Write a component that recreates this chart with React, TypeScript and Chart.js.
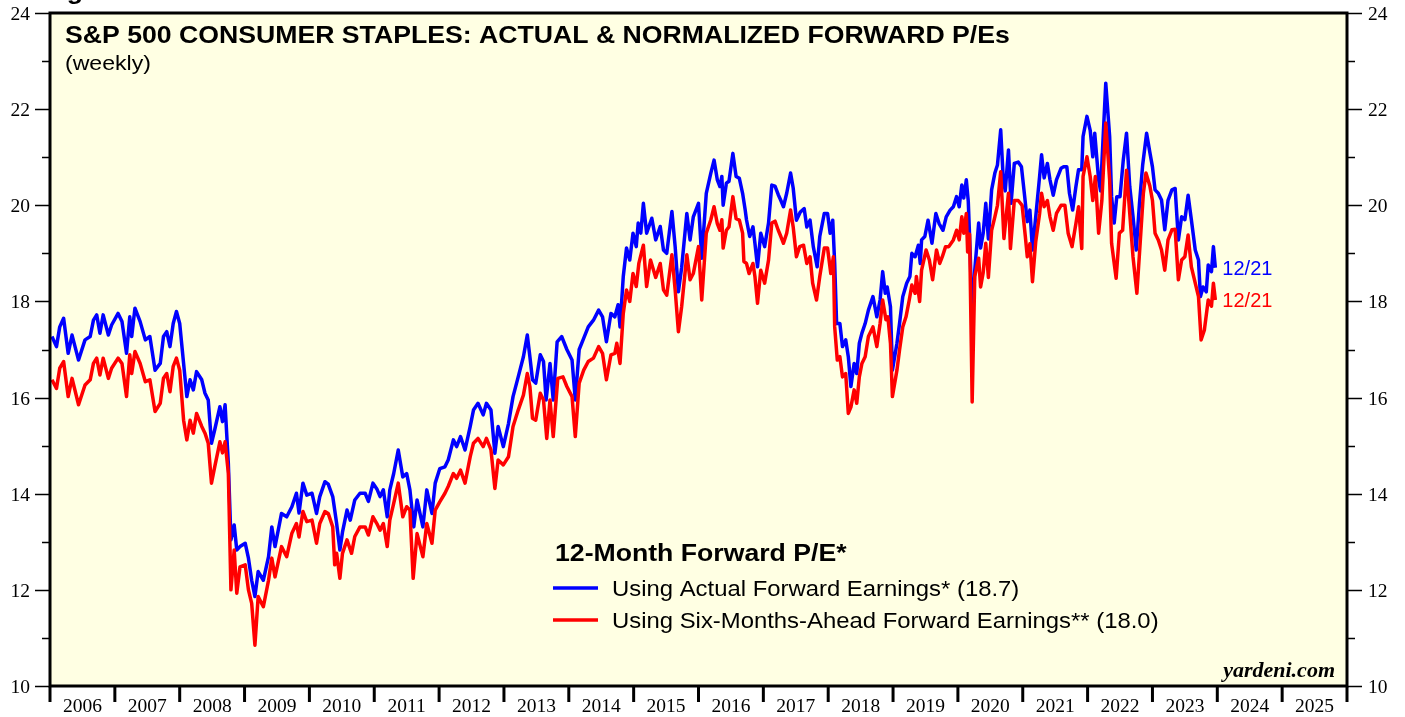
import React, { useEffect, useRef } from "react";
import { Chart, registerables } from "chart.js";

Chart.register(...registerables);

const yearLabels = ["2006","2007","2008","2009","2010","2011","2012","2013","2014","2015","2016","2017","2018","2019","2020","2021","2022","2023","2024","2025"];
const yTicks = [10,11,12,13,14,15,16,17,18,19,20,21,22,23,24];

const actualDates = [2006.03,2006.10,2006.15,2006.21,2006.28,2006.34,2006.44,2006.54,2006.62,2006.67,2006.72,2006.77,2006.82,2006.90,2006.95,2007.05,2007.11,2007.18,2007.23,2007.26,2007.31,2007.39,2007.47,2007.54,2007.62,2007.70,2007.75,2007.80,2007.85,2007.90,2007.95,2008.00,2008.06,2008.11,2008.16,2008.21,2008.26,2008.34,2008.39,2008.44,2008.49,2008.54,2008.62,2008.66,2008.70,2008.75,2008.79,2008.84,2008.88,2008.93,2009.01,2009.06,2009.11,2009.16,2009.21,2009.29,2009.37,2009.42,2009.47,2009.57,2009.65,2009.73,2009.80,2009.84,2009.90,2009.96,2010.04,2010.11,2010.16,2010.24,2010.29,2010.36,2010.42,2010.47,2010.51,2010.58,2010.63,2010.70,2010.78,2010.86,2010.91,2010.98,2011.04,2011.09,2011.14,2011.20,2011.24,2011.30,2011.37,2011.44,2011.50,2011.55,2011.61,2011.66,2011.75,2011.81,2011.89,2011.94,2012.01,2012.09,2012.14,2012.22,2012.27,2012.33,2012.40,2012.48,2012.53,2012.60,2012.68,2012.73,2012.80,2012.86,2012.91,2012.99,2013.07,2013.14,2013.22,2013.30,2013.36,2013.40,2013.44,2013.49,2013.56,2013.61,2013.65,2013.71,2013.76,2013.82,2013.89,2013.97,2014.05,2014.10,2014.16,2014.22,2014.30,2014.38,2014.46,2014.52,2014.58,2014.65,2014.71,2014.76,2014.79,2014.84,2014.89,2014.94,2014.99,2015.04,2015.07,2015.11,2015.15,2015.20,2015.28,2015.34,2015.41,2015.46,2015.51,2015.59,2015.64,2015.69,2015.74,2015.82,2015.87,2015.92,2016.00,2016.05,2016.12,2016.19,2016.24,2016.29,2016.33,2016.36,2016.38,2016.43,2016.47,2016.53,2016.58,2016.63,2016.68,2016.72,2016.74,2016.79,2016.84,2016.87,2016.91,2016.96,2017.02,2017.08,2017.13,2017.18,2017.23,2017.27,2017.31,2017.36,2017.42,2017.46,2017.51,2017.57,2017.63,2017.67,2017.72,2017.77,2017.83,2017.87,2017.94,2017.99,2018.03,2018.07,2018.10,2018.13,2018.18,2018.22,2018.27,2018.31,2018.35,2018.40,2018.44,2018.48,2018.52,2018.57,2018.62,2018.69,2018.75,2018.80,2018.84,2018.88,2018.91,2018.96,2018.99,2019.06,2019.10,2019.15,2019.21,2019.26,2019.29,2019.34,2019.39,2019.42,2019.44,2019.49,2019.54,2019.60,2019.66,2019.71,2019.77,2019.82,2019.88,2019.93,2019.98,2020.02,2020.06,2020.09,2020.13,2020.16,2020.19,2020.22,2020.26,2020.32,2020.35,2020.39,2020.43,2020.47,2020.52,2020.57,2020.61,2020.66,2020.70,2020.73,2020.78,2020.82,2020.87,2020.93,2020.98,2021.03,2021.07,2021.11,2021.15,2021.20,2021.26,2021.29,2021.33,2021.38,2021.42,2021.47,2021.52,2021.59,2021.63,2021.68,2021.72,2021.77,2021.82,2021.86,2021.91,2021.93,2021.99,2022.04,2022.08,2022.11,2022.17,2022.20,2022.24,2022.28,2022.34,2022.37,2022.41,2022.45,2022.50,2022.55,2022.60,2022.65,2022.70,2022.75,2022.80,2022.85,2022.91,2022.96,2023.00,2023.04,2023.09,2023.14,2023.19,2023.24,2023.30,2023.35,2023.40,2023.45,2023.50,2023.55,2023.60,2023.66,2023.71,2023.74,2023.78,2023.83,2023.86,2023.91,2023.94,2023.97];
const actualPE = [17.27,17.06,17.47,17.65,16.92,17.30,16.78,17.20,17.27,17.61,17.72,17.34,17.72,17.30,17.51,17.75,17.58,16.92,17.68,17.27,17.86,17.58,17.20,17.27,16.57,16.71,17.27,17.37,17.06,17.54,17.79,17.54,16.71,16.02,16.37,16.16,16.54,16.37,16.09,15.95,15.05,15.33,15.81,15.50,15.85,14.63,13.04,13.35,12.83,12.90,12.97,12.66,12.20,11.86,12.38,12.20,12.69,13.31,12.90,13.59,13.52,13.73,14.01,13.60,14.22,13.97,14.01,13.59,13.94,14.25,14.20,13.94,13.38,12.83,13.20,13.66,13.45,13.87,14.01,14.01,13.84,14.22,14.10,13.94,14.08,13.52,14.08,14.42,14.91,14.35,14.42,14.08,13.31,13.87,13.31,14.08,13.59,14.22,14.52,14.56,14.70,15.12,14.98,15.19,14.91,15.40,15.74,15.88,15.64,15.88,15.74,14.84,15.40,14.98,15.46,16.02,16.43,16.85,17.30,16.85,16.37,16.30,16.89,16.75,15.95,16.71,15.95,17.16,17.27,17.00,16.78,15.95,17.00,17.20,17.47,17.61,17.82,17.68,17.16,17.75,17.68,17.93,17.47,18.52,19.11,18.86,19.42,19.14,19.63,19.42,20.04,19.42,19.73,19.28,19.56,19.07,19.00,19.87,19.14,18.20,18.70,19.83,19.28,19.76,20.04,18.90,20.25,20.67,20.94,20.53,20.39,20.60,20.00,20.46,20.50,21.08,20.60,20.56,20.25,19.90,19.70,19.35,19.55,19.21,18.72,19.42,19.14,19.63,20.42,20.40,20.22,20.10,19.97,20.25,20.67,20.36,19.69,19.86,19.93,19.55,19.69,19.14,18.72,19.35,19.83,19.83,19.42,19.69,18.79,17.54,17.54,17.06,17.20,16.85,16.23,16.71,16.50,17.13,17.34,17.54,17.82,18.10,17.68,18.03,18.62,18.17,18.30,17.89,16.57,17.13,17.54,18.10,18.38,18.52,19.00,18.93,19.17,18.79,19.28,19.35,19.69,19.21,19.83,19.62,19.48,19.76,19.90,19.97,20.18,19.97,20.42,20.15,20.53,20.08,19.00,17.50,18.65,19.63,19.11,19.42,20.04,19.30,20.32,20.67,20.84,21.57,20.53,20.30,21.15,20.04,20.87,20.90,20.80,20.18,19.66,19.90,19.07,19.76,20.60,21.05,20.57,20.87,20.53,20.21,20.53,20.77,20.80,20.80,20.25,19.90,20.39,20.74,20.74,21.43,21.85,21.56,21.01,21.50,20.53,20.30,21.43,22.54,21.43,20.18,19.63,20.18,20.18,20.94,21.50,20.39,19.77,19.07,20.04,20.85,21.50,21.10,20.80,20.32,20.25,20.11,19.49,20.10,20.32,20.35,19.28,19.76,19.70,20.21,19.70,19.07,18.86,18.10,18.30,18.20,18.76,18.62,19.14,18.70];

const normDates = [2006.03,2006.10,2006.15,2006.21,2006.28,2006.34,2006.44,2006.54,2006.62,2006.67,2006.72,2006.77,2006.82,2006.90,2006.95,2007.05,2007.11,2007.18,2007.23,2007.26,2007.31,2007.39,2007.47,2007.54,2007.62,2007.70,2007.75,2007.80,2007.85,2007.90,2007.95,2008.00,2008.06,2008.11,2008.16,2008.21,2008.26,2008.34,2008.39,2008.44,2008.49,2008.54,2008.62,2008.66,2008.70,2008.75,2008.79,2008.84,2008.88,2008.93,2009.01,2009.06,2009.11,2009.16,2009.21,2009.29,2009.37,2009.42,2009.47,2009.57,2009.65,2009.73,2009.80,2009.84,2009.90,2009.96,2010.04,2010.11,2010.16,2010.24,2010.29,2010.36,2010.39,2010.42,2010.47,2010.51,2010.58,2010.65,2010.70,2010.78,2010.86,2010.91,2010.98,2011.04,2011.09,2011.14,2011.20,2011.24,2011.30,2011.37,2011.44,2011.50,2011.55,2011.60,2011.66,2011.75,2011.81,2011.89,2011.94,2012.01,2012.09,2012.14,2012.22,2012.27,2012.33,2012.40,2012.48,2012.53,2012.60,2012.68,2012.73,2012.80,2012.86,2012.91,2012.99,2013.07,2013.14,2013.22,2013.30,2013.36,2013.40,2013.44,2013.49,2013.56,2013.61,2013.66,2013.71,2013.76,2013.83,2013.91,2013.97,2014.05,2014.10,2014.16,2014.23,2014.30,2014.38,2014.46,2014.52,2014.58,2014.65,2014.71,2014.74,2014.79,2014.84,2014.89,2014.94,2014.99,2015.04,2015.08,2015.15,2015.20,2015.26,2015.34,2015.41,2015.46,2015.51,2015.59,2015.64,2015.69,2015.74,2015.82,2015.87,2015.92,2016.00,2016.05,2016.12,2016.19,2016.24,2016.29,2016.33,2016.36,2016.38,2016.43,2016.47,2016.53,2016.58,2016.63,2016.68,2016.70,2016.74,2016.78,2016.84,2016.87,2016.91,2016.96,2017.02,2017.08,2017.13,2017.18,2017.23,2017.27,2017.31,2017.36,2017.42,2017.46,2017.51,2017.56,2017.62,2017.67,2017.72,2017.76,2017.82,2017.87,2017.94,2017.99,2018.04,2018.08,2018.10,2018.14,2018.18,2018.22,2018.27,2018.31,2018.35,2018.40,2018.44,2018.48,2018.52,2018.57,2018.62,2018.69,2018.75,2018.80,2018.84,2018.89,2018.92,2018.96,2018.99,2019.06,2019.10,2019.15,2019.20,2019.25,2019.29,2019.34,2019.36,2019.41,2019.44,2019.51,2019.56,2019.61,2019.67,2019.72,2019.76,2019.81,2019.86,2019.93,2019.98,2020.02,2020.06,2020.09,2020.13,2020.15,2020.18,2020.22,2020.26,2020.32,2020.35,2020.39,2020.43,2020.47,2020.52,2020.57,2020.61,2020.66,2020.71,2020.78,2020.81,2020.87,2020.93,2020.99,2021.04,2021.07,2021.11,2021.15,2021.20,2021.26,2021.29,2021.33,2021.38,2021.42,2021.47,2021.52,2021.59,2021.65,2021.70,2021.76,2021.82,2021.86,2021.91,2021.93,2021.99,2022.04,2022.08,2022.12,2022.17,2022.22,2022.28,2022.34,2022.37,2022.44,2022.49,2022.54,2022.60,2022.65,2022.70,2022.76,2022.81,2022.86,2022.90,2022.96,2023.00,2023.04,2023.09,2023.14,2023.19,2023.24,2023.30,2023.35,2023.40,2023.45,2023.50,2023.55,2023.60,2023.66,2023.71,2023.75,2023.80,2023.86,2023.91,2023.94,2023.97];
const normPE = [16.37,16.19,16.61,16.75,16.02,16.40,15.85,16.26,16.37,16.71,16.82,16.47,16.82,16.40,16.61,16.82,16.71,16.02,16.89,16.50,16.96,16.71,16.33,16.37,15.71,15.88,16.40,16.50,16.12,16.65,16.82,16.57,15.53,15.12,15.53,15.26,15.67,15.40,15.26,15.05,14.22,14.56,15.08,14.85,15.08,14.43,12.00,12.83,11.93,12.48,12.52,12.00,11.72,10.85,11.86,11.65,12.20,12.66,12.27,12.90,12.69,13.18,13.38,13.10,13.63,13.42,13.45,12.97,13.38,13.63,13.59,13.31,12.52,12.76,12.24,12.76,13.04,12.76,13.11,13.31,13.31,13.14,13.52,13.38,13.24,13.38,12.90,13.45,13.80,14.22,13.52,13.73,13.66,12.24,13.17,12.69,13.38,12.97,13.66,13.83,14.01,14.15,14.42,14.32,14.49,14.22,14.77,15.05,15.15,14.98,15.15,14.91,14.11,14.70,14.60,14.77,15.40,15.74,16.05,16.50,16.23,15.57,15.53,16.09,15.95,15.15,15.95,15.19,16.40,16.43,16.23,16.02,15.19,16.30,16.57,16.75,16.82,17.06,16.92,16.37,16.89,16.92,17.13,16.71,17.75,18.24,18.00,18.58,18.31,18.79,19.17,18.31,18.86,18.50,18.79,18.24,18.13,18.97,18.24,17.37,17.89,18.97,18.45,18.58,19.14,18.03,19.42,19.70,19.97,19.62,19.48,19.70,19.11,19.48,19.55,20.18,19.72,19.69,19.42,18.83,18.79,18.58,18.79,18.52,17.96,18.65,18.38,18.86,19.63,19.67,19.48,19.35,19.21,19.42,19.90,19.55,18.93,19.14,19.17,18.79,18.93,18.38,18.03,18.52,19.11,19.11,18.58,18.93,17.47,16.78,16.85,16.43,16.50,15.67,15.80,16.16,15.88,16.43,16.71,16.85,17.27,17.47,17.06,17.54,18.03,17.62,17.68,17.13,16.02,16.57,16.99,17.47,17.68,18.03,18.34,18.17,18.52,18.00,18.65,19.07,18.86,18.45,19.07,18.79,18.93,19.14,19.14,19.28,19.48,19.28,19.76,19.42,19.83,19.03,19.40,15.91,18.52,18.90,18.30,18.60,19.21,18.50,19.48,19.76,20.00,20.70,19.31,20.25,19.10,20.10,20.10,20.00,19.35,18.93,19.20,18.41,19.24,19.83,20.25,19.97,20.10,19.76,19.48,19.83,20.00,20.00,19.42,19.14,19.62,19.97,19.10,20.60,21.01,20.60,20.10,20.60,19.42,20.10,21.71,20.53,19.21,18.48,19.42,19.48,20.73,19.83,18.93,18.17,19.20,20.25,20.67,20.40,20.10,19.42,19.28,19.07,18.65,19.28,19.49,19.50,18.45,18.86,18.93,19.38,18.72,18.38,18.10,17.20,17.40,18.03,17.90,18.38,18.03];

const titleText = "S&P 500 CONSUMER STAPLES: ACTUAL & NORMALIZED FORWARD P/Es";
const subtitleText = "(weekly)";
const legendTitle = "12-Month Forward P/E*";
const actualLabel = "Using Actual Forward Earnings* (18.7)";
const normLabel = "Using Six-Months-Ahead Forward Earnings** (18.0)";
const lastDateLabel = "12/21";
const sourceText = "yardeni.com";

const BLUE = "#0000FF";
const RED = "#FF0000";
const SANS = "'Liberation Sans', Arial, sans-serif";
const SERIF = "'Liberation Serif', 'Times New Roman', serif";

function txt(ctx: CanvasRenderingContext2D, s: string, x: number, y: number, font: string, color: string, align: CanvasTextAlign = "left", sx = 1) {
  ctx.save();
  ctx.font = font;
  ctx.fillStyle = color;
  ctx.textAlign = align;
  ctx.textBaseline = "alphabetic";
  ctx.translate(x, y);
  ctx.scale(sx, 1);
  ctx.fillText(s, 0, 0);
  ctx.restore();
}

const decorPlugin = {
  id: "decor",
  beforeDraw(chart: any) {
    const { ctx, chartArea: a } = chart;
    ctx.save();
    ctx.fillStyle = "#FFFFE3";
    ctx.fillRect(a.left, a.top, a.right - a.left, a.bottom - a.top);
    ctx.restore();
  },
  afterDatasetsDraw(chart: any) {
    const { ctx, chartArea: a } = chart;
    const xs = chart.scales.x;
    const ys = chart.scales.y;
    ctx.save();
    ctx.strokeStyle = "#000";
    ctx.lineWidth = 3;
    ctx.strokeRect(a.left, a.top, a.right - a.left, a.bottom - a.top);
    ctx.lineWidth = 1.5;
    yTicks.forEach((v) => {
      const y = Math.round(ys.getPixelForValue(v)) + 0.5;
      const major = v % 2 === 0;
      const len = major ? 15 : 8;
      ctx.beginPath();
      ctx.moveTo(a.left - len, y);
      ctx.lineTo(a.left, y);
      ctx.moveTo(a.right, y);
      ctx.lineTo(a.right + len, y);
      ctx.stroke();
      if (major) {
        txt(ctx, String(v), 30, y + 6, `19.5px ${SERIF}`, "#000", "right");
        txt(ctx, String(v), a.right + 21, y + 6, `19.5px ${SERIF}`, "#000", "left");
      }
    });
    ctx.lineWidth = 3;
    for (let i = 0; i <= yearLabels.length; i++) {
      const x = xs.getPixelForValue(2006 + i);
      ctx.beginPath();
      ctx.moveTo(x, a.bottom);
      ctx.lineTo(x, a.bottom + 16);
      ctx.stroke();
    }
    yearLabels.forEach((lab, i) => {
      const x = xs.getPixelForValue(2006 + i + 0.5);
      txt(ctx, lab, x, a.bottom + 26, `19.5px ${SERIF}`, "#000", "center");
    });
    txt(ctx, titleText, a.left + 15, 43, `bold 24px ${SANS}`, "#000", "left", 1.11);
    txt(ctx, subtitleText, a.left + 15, 70, `21px ${SANS}`, "#000", "left", 1.1);
    txt(ctx, "Fig", 43, -1, `bold 24px ${SANS}`, "#000", "left", 1.11);
    txt(ctx, legendTitle, 555, 561, `bold 24px ${SANS}`, "#000", "left", 1.11);
    ctx.lineWidth = 3.5;
    ctx.strokeStyle = BLUE;
    ctx.beginPath(); ctx.moveTo(553, 588); ctx.lineTo(598, 588); ctx.stroke();
    ctx.strokeStyle = RED;
    ctx.beginPath(); ctx.moveTo(553, 620); ctx.lineTo(598, 620); ctx.stroke();
    txt(ctx, actualLabel, 612, 596, `22px ${SANS}`, "#000", "left", 1.085);
    txt(ctx, normLabel, 612, 628, `22px ${SANS}`, "#000", "left", 1.085);
    const lastX = xs.getPixelForValue(actualDates[actualDates.length - 1]);
    txt(ctx, lastDateLabel, lastX + 7, ys.getPixelForValue(actualPE[actualPE.length - 1]) + 7, `20px ${SANS}`, BLUE, "left");
    txt(ctx, lastDateLabel, lastX + 7, ys.getPixelForValue(normPE[normPE.length - 1]) + 7, `20px ${SANS}`, RED, "left");
    txt(ctx, sourceText, a.right - 12, 677, `italic bold 20px ${SERIF}`, "#000", "right", 1.1);
    ctx.restore();
  },
};

export default function App() {
  const ref = useRef<HTMLCanvasElement | null>(null);
  useEffect(() => {
    document.body.style.margin = "0";
    const canvas = ref.current;
    if (!canvas) return;
    const chart = new Chart(canvas, {
      type: "line",
      data: {
        datasets: [
          {
            label: "Actual",
            data: actualDates.map((d, i) => ({ x: d, y: actualPE[i] })),
            borderColor: BLUE,
            borderWidth: 3.5,
            pointRadius: 0,
            tension: 0,
            borderJoinStyle: "round",
            order: 2,
          },
          {
            label: "Normalized",
            data: normDates.map((d, i) => ({ x: d, y: normPE[i] })),
            borderColor: RED,
            borderWidth: 3.5,
            pointRadius: 0,
            tension: 0,
            borderJoinStyle: "round",
            order: 1,
          },
        ],
      },
      options: {
        animation: false,
        responsive: false,
        events: [],
        layout: { padding: { left: 50, right: 58, top: 13, bottom: 31 } },
        scales: {
          x: { type: "linear", min: 2006, max: 2026, display: false },
          y: { type: "linear", min: 10, max: 24, display: false },
        },
        plugins: { legend: { display: false }, tooltip: { enabled: false } },
      },
      plugins: [decorPlugin],
    } as any);
    return () => chart.destroy();
  }, []);
  return (
    <div style={{ width: 1405, height: 717, background: "#fff" }}>
      <canvas ref={ref} width={1405} height={717} style={{ display: "block" }} />
    </div>
  );
}
